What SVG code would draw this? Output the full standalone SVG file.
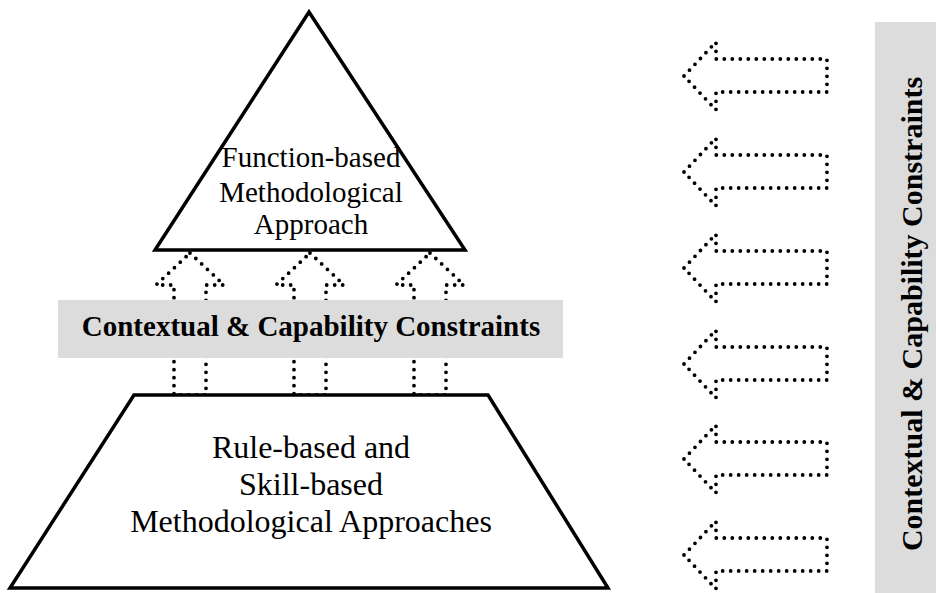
<svg xmlns="http://www.w3.org/2000/svg" width="936" height="593" viewBox="0 0 936 593">
<defs>
<style>
.shape{fill:#fff;stroke:#000;stroke-width:3.5;stroke-linejoin:miter}
.dot{fill:none;stroke:#000;stroke-width:3.8;stroke-dasharray:0 8;stroke-linecap:round;stroke-linejoin:round}
.band{fill:#dcdcdc}
.lbl{font-family:"Liberation Serif","Times New Roman",serif;fill:#000;text-anchor:middle}
.bold{font-weight:bold}
</style>
<polygon id="upArrow" points="0,0 34,32 16,32 16,142 -16,142 -16,32 -34,32"/>
<polygon id="leftArrow" points="0,0 32,-34 32,-17 143,-17 143,16 32,16 32,34"/>
</defs>
<rect width="936" height="593" fill="#fff"/>
<g id="connectors">
<use href="#upArrow" class="dot" x="190" y="253"/>
<use href="#upArrow" class="dot" x="310" y="253"/>
<use href="#upArrow" class="dot" x="430" y="253"/>
<use href="#leftArrow" class="dot" x="684" y="76"/>
<use href="#leftArrow" class="dot" x="684" y="172"/>
<use href="#leftArrow" class="dot" x="684" y="268"/>
<use href="#leftArrow" class="dot" x="684" y="364"/>
<use href="#leftArrow" class="dot" x="684" y="459"/>
<use href="#leftArrow" class="dot" x="684" y="555"/>
</g>
<g id="function-based">
<polygon class="shape" points="309,12 465,250 155,250"/>
<text class="lbl" font-size="29" x="311" y="167">Function-based</text>
<text class="lbl" font-size="29" x="311" y="202">Methodological</text>
<text class="lbl" font-size="29" x="311" y="234">Approach</text>
</g>
<g id="constraints-band">
<rect class="band" x="58" y="300" width="505" height="58"/>
<text class="lbl bold" font-size="29" x="311" y="336">Contextual &amp; Capability Constraints</text>
</g>
<g id="rule-skill-based">
<polygon class="shape" points="134,395 488,395 608,588 10,588"/>
<text class="lbl" font-size="32" x="311" y="458">Rule-based and</text>
<text class="lbl" font-size="32" x="311" y="495">Skill-based</text>
<text class="lbl" font-size="32" x="311" y="532">Methodological Approaches</text>
</g>
<g id="constraints-side">
<rect class="band" x="875" y="22" width="61" height="571"/>
<text class="lbl bold" font-size="30" transform="translate(922,314) rotate(-90)">Contextual &amp; Capability Constraints</text>
</g>
</svg>
